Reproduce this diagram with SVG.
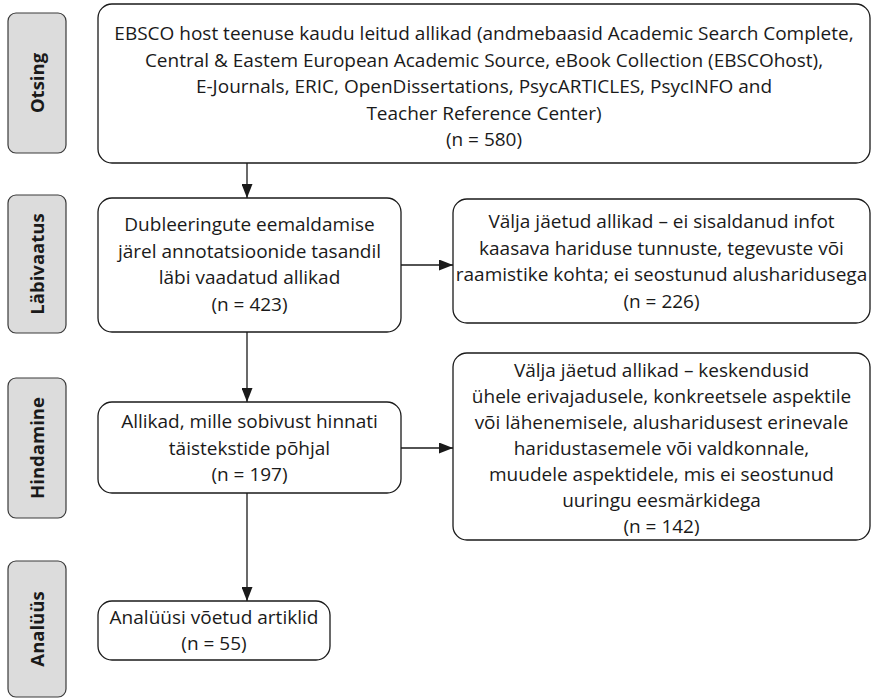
<svg xmlns="http://www.w3.org/2000/svg" width="871" height="700" viewBox="0 0 871 700">
<defs>
<style>
.box{fill:#fff;stroke:#1a1a1a;stroke-width:1.3}
.lab{fill:#dcdcdc;stroke:#3a3a3a;stroke-width:1.2}
.t{font-family:"Open Sans","Liberation Sans",sans-serif;font-size:19px;fill:#1a1a1a;text-anchor:middle}
.lt{font-family:"Open Sans","Liberation Sans",sans-serif;font-size:18.5px;font-weight:bold;fill:#1a1a1a;text-anchor:middle}
.c{stroke:#1a1a1a;stroke-width:1.3;fill:none}
</style>
<marker id="ah" viewBox="0 0 14 11" refX="14" refY="5.5" markerWidth="14" markerHeight="11" markerUnits="userSpaceOnUse" orient="auto">
<path d="M0,0 L14,5.5 L0,11 Z" fill="#1a1a1a"/>
</marker>
</defs>
<g id="label-otsing"><rect class="lab" x="8" y="13" width="58" height="140" rx="8"/><text class="lt" transform="translate(44,83) rotate(-90)">Otsing</text></g>
<g id="label-labivaatus"><rect class="lab" x="8" y="195" width="58" height="138" rx="8"/><text class="lt" transform="translate(44,264) rotate(-90)">Läbivaatus</text></g>
<g id="label-hindamine"><rect class="lab" x="8" y="378" width="58" height="140" rx="8"/><text class="lt" transform="translate(44,448) rotate(-90)">Hindamine</text></g>
<g id="label-analuus"><rect class="lab" x="8" y="561" width="58" height="136" rx="8"/><text class="lt" transform="translate(44,629) rotate(-90)">Analüüs</text></g>
<g id="connectors">
<line class="c" x1="247" y1="163" x2="247" y2="198" marker-end="url(#ah)"/>
<line class="c" x1="247" y1="332" x2="247" y2="402" marker-end="url(#ah)"/>
<line class="c" x1="247" y1="493" x2="247" y2="601" marker-end="url(#ah)"/>
<line class="c" x1="401" y1="265" x2="453" y2="265" marker-end="url(#ah)"/>
<line class="c" x1="401" y1="448" x2="453" y2="448" marker-end="url(#ah)"/>
</g>
<g id="node-search"><rect class="box" x="98" y="4" width="772" height="159" rx="14"/>
<text class="t" x="484" y="40">EBSCO host teenuse kaudu leitud allikad (andmebaasid Academic Search Complete,</text>
<text class="t" x="484" y="66.5">Central &amp; Eastem European Academic Source, eBook Collection (EBSCOhost),</text>
<text class="t" x="484" y="93">E-Journals, ERIC, OpenDissertations, PsycARTICLES, PsycINFO and</text>
<text class="t" x="484" y="119.5">Teacher Reference Center)</text>
<text class="t" x="484" y="146">(n = 580)</text>
</g>
<g id="node-screened"><rect class="box" x="98" y="198" width="303" height="134" rx="14"/>
<text class="t" x="249.5" y="231">Dubleeringute eemaldamise</text>
<text class="t" x="249.5" y="257.5">järel annotatsioonide tasandil</text>
<text class="t" x="249.5" y="284">läbi vaadatud allikad</text>
<text class="t" x="249.5" y="310.5">(n = 423)</text>
</g>
<g id="node-excluded1"><rect class="box" x="453" y="199" width="417" height="124" rx="14"/>
<text class="t" x="661.5" y="228">Välja jäetud allikad – ei sisaldanud infot</text>
<text class="t" x="661.5" y="254.5">kaasava hariduse tunnuste, tegevuste või</text>
<text class="t" x="661.5" y="281">raamistike kohta; ei seostunud alusharidusega</text>
<text class="t" x="661.5" y="307.5">(n = 226)</text>
</g>
<g id="node-fulltext"><rect class="box" x="98" y="402" width="303" height="91" rx="14"/>
<text class="t" x="249.5" y="428">Allikad, mille sobivust hinnati</text>
<text class="t" x="249.5" y="454.5">täistekstide põhjal</text>
<text class="t" x="249.5" y="481">(n = 197)</text>
</g>
<g id="node-excluded2"><rect class="box" x="453" y="353" width="417" height="187" rx="14"/>
<text class="t" x="661.5" y="377">Välja jäetud allikad – keskendusid</text>
<text class="t" x="661.5" y="403">ühele erivajadusele, konkreetsele aspektile</text>
<text class="t" x="661.5" y="429">või lähenemisele, alusharidusest erinevale</text>
<text class="t" x="661.5" y="455">haridustasemele või valdkonnale,</text>
<text class="t" x="661.5" y="481">muudele aspektidele, mis ei seostunud</text>
<text class="t" x="661.5" y="507">uuringu eesmärkidega</text>
<text class="t" x="661.5" y="533">(n = 142)</text>
</g>
<g id="node-analysis"><rect class="box" x="98" y="601" width="232" height="59" rx="14"/>
<text class="t" x="214" y="624">Analüüsi võetud artiklid</text>
<text class="t" x="214" y="650">(n = 55)</text>
</g>
</svg>
